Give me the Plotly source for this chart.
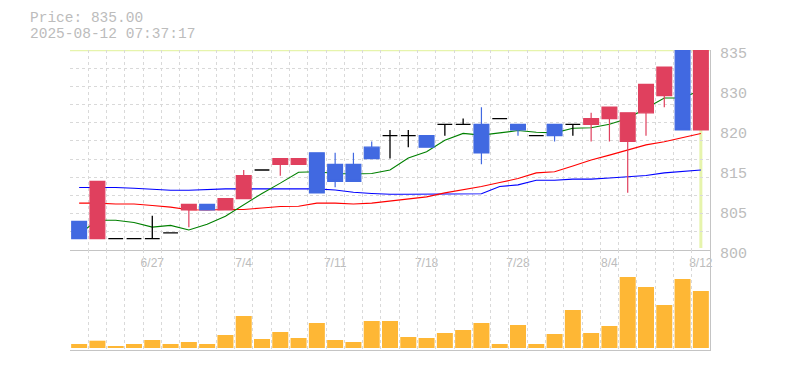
import plotly.graph_objects as go

# ---- data ----
dates = ["6/23", "6/24", "6/25", "6/26", "6/27", "6/30", "7/1", "7/2", "7/3", "7/4",
         "7/7", "7/8", "7/9", "7/10", "7/11", "7/14", "7/15", "7/16", "7/17", "7/18",
         "7/22", "7/23", "7/24", "7/25", "7/28", "7/29", "7/30", "7/31", "8/1", "8/4",
         "8/5", "8/6", "8/7", "8/8", "8/12"]
opens = [805, 802, 802, 802, 802, 803, 807, 808, 807, 809,
         814, 815, 815, 817, 815, 815, 818, 820, 820, 820,
         822, 822, 822, 823, 822, 820, 822, 822, 822, 823,
         819, 824, 827, 835, 821]
highs = [805, 812, 802, 802, 806, 803, 808, 808, 809, 814,
         814, 816, 816, 817, 817, 817, 819, 821, 821, 820,
         822, 823, 825, 823, 822, 820, 822, 822, 824, 825,
         824, 829, 832, 835, 835]
lows = [802, 802, 802, 802, 802, 803, 804, 807, 807, 809,
        814, 813, 815, 810, 811, 812, 816, 816, 818, 818,
        820, 822, 815, 823, 820, 820, 819, 820, 819, 819,
        810, 820, 825, 821, 821]
closes = [802, 812, 802, 802, 802, 803, 808, 807, 809, 813,
          814, 816, 816, 810, 812, 812, 816, 820, 820, 818,
          822, 822, 817, 823, 821, 820, 820, 822, 823, 825,
          824, 829, 832, 821, 835]
ma_short = [802.8, 805.2, 805.2, 804.8, 804.0, 804.3, 803.5, 804.5, 805.9, 807.9,
            809.9, 811.7, 813.6, 813.7, 813.4, 813.3, 813.4, 814.0, 816.1, 817.2,
            819.2, 820.4, 820.1, 820.5, 820.9, 820.6, 820.5, 821.3, 821.4, 822.0,
            823.0, 824.8, 826.6, 826.6, 828.0]
ma_mid = [808.2, 808.2, 808.05, 808.05, 807.8, 807.5, 807.05, 807.0, 807.1, 807.1,
          807.35, 807.6, 807.65, 808.2, 808.2, 808.05, 808.2, 808.6, 808.9, 809.3,
          810.0, 810.5, 811.1, 811.8, 812.5, 813.5, 813.7, 814.7, 815.75, 816.6,
          817.5, 818.4, 818.95, 819.7, 820.4]
ma_long = [810.95, 810.95, 810.95, 810.8, 810.6, 810.45, 810.45, 810.6, 810.7, 810.7,
           810.7, 810.7, 810.7, 810.7, 810.5, 810.1, 809.9, 809.75, 809.75, 809.75,
           809.75, 809.75, 809.85, 811.1, 811.4, 812.2, 812.2, 812.4, 812.4, 812.6,
           812.8, 813.05, 813.5, 813.7, 814.0]
volume = [4, 7.3, 2, 4, 8, 4, 6, 4, 13, 32,
          9, 16, 10, 25, 8, 6, 27, 27, 11, 10,
          15, 18, 25, 4, 23, 4, 14, 38, 15, 22,
          71, 61, 43, 69, 57]
tick_dates = ["6/27", "7/4", "7/11", "7/18", "7/28", "8/4", "8/12"]
price_tick_vals = [800, 807, 814, 821, 828, 835]
price_tick_text = ["800", "805", "815", "820", "830", "835"]
price_min, price_max = 800, 835
price_label = "Price: 835.00"
timestamp = "2025-08-12 07:37:17"

# ---- styles ----
RED = "#e0405e"
BLUE = "#4169e1"
ORANGE = "#feb735"
GRID = "#d9d9d9"
AXIS = "#c4c4c4"
TEXT = "#bcbcbc"
CROSS = "#e6f4ac"
MONO = "Liberation Mono, DejaVu Sans Mono, monospace"

idx = list(range(len(dates)))
xrange_ = [-0.5, len(dates) - 0.5]


def subset(cond):
    sel = [i for i in idx if cond(opens[i], closes[i])]
    return dict(x=sel,
                open=[opens[i] for i in sel], high=[highs[i] for i in sel],
                low=[lows[i] for i in sel], close=[closes[i] for i in sel])


fig = go.Figure()

# moving averages on the base price subplot (drawn beneath the candles)
for series, col in [(ma_long, "#0000ff"), (ma_mid, "#ff0000"), (ma_short, "#008000")]:
    fig.add_trace(go.Scatter(x=idx, y=series, mode="lines", xaxis="x", yaxis="y",
                             line=dict(color=col, width=1.1), hoverinfo="skip",
                             showlegend=False))

# candles on an overlaying subplot so they sit above the average lines
for cond, col, lw in [(lambda o, c: c > o, RED, 1.2),
                      (lambda o, c: c < o, BLUE, 1.2),
                      (lambda o, c: c == o, "#000000", 1.3)]:
    d = subset(cond)
    fig.add_trace(go.Candlestick(
        **d, xaxis="x3", yaxis="y3", whiskerwidth=0,
        increasing=dict(line=dict(color=col, width=lw), fillcolor=col),
        decreasing=dict(line=dict(color=col, width=lw), fillcolor=col),
        hoverinfo="skip", showlegend=False))

fig.add_trace(go.Bar(x=idx, y=volume, xaxis="x2", yaxis="y2",
                     marker=dict(color=ORANGE, line=dict(width=0)),
                     hoverinfo="skip", showlegend=False))

# crosshair on the last candle
last = len(dates) - 1
fig.add_shape(type="line", xref="x domain", yref="y", x0=0, x1=1,
              y0=closes[last], y1=closes[last], line=dict(color=CROSS, width=2.5),
              layer="below")
fig.add_shape(type="line", xref="x", yref="y domain", x0=last, x1=last,
              y0=0.01, y1=1, line=dict(color=CROSS, width=3), layer="below")

minor_x = dict(showgrid=True, tick0=-0.5, dtick=1, gridcolor=GRID,
               griddash="3px,3px", gridwidth=1, ticks="")

# the page body adds an 8px margin, so the figure is sized/offset to compensate
fig.update_layout(
    width=777, height=362,
    margin=dict(l=62, r=75, t=42, b=20, autoexpand=False),
    paper_bgcolor="white", plot_bgcolor="white",
    boxgap=0.19, boxgroupgap=0, bargap=0.125,
    showlegend=False,
    xaxis=dict(domain=[0, 1], anchor="y", range=xrange_,
               tickmode="array", tickvals=[dates.index(t) for t in tick_dates],
               ticktext=tick_dates, showgrid=False, minor=minor_x,
               showline=True, linecolor=AXIS, linewidth=1, ticks="",
               ticklabelstandoff=2,
               tickfont=dict(family="Liberation Sans, Arial, sans-serif", size=12, color=TEXT),
               rangeslider=dict(visible=False), zeroline=False, fixedrange=True,
               automargin=False),
    yaxis=dict(domain=[1 / 3, 1], anchor="x", side="right",
               range=[price_min, price_max],
               tickmode="array", tickvals=price_tick_vals, ticktext=price_tick_text,
               showgrid=False,
               minor=dict(showgrid=True, tick0=price_min, dtick=(price_max - price_min) / 11,
                          gridcolor=GRID, griddash="3px,3px", gridwidth=1, ticks=""),
               showline=True, linecolor=AXIS, linewidth=1, ticks="",
               ticklabelstandoff=6, ticklabelshift=3,
               tickfont=dict(family=MONO, size=15, color=TEXT),
               zeroline=False, fixedrange=True, automargin=False),
    xaxis3=dict(overlaying="x", anchor="y3", range=xrange_, visible=False,
                showgrid=False, zeroline=False, fixedrange=True,
                rangeslider=dict(visible=False), automargin=False),
    yaxis3=dict(overlaying="y", anchor="x3", side="right", range=[price_min, price_max],
                visible=False, showgrid=False, zeroline=False, fixedrange=True,
                automargin=False),
    xaxis2=dict(domain=[0, 1], anchor="y2", range=xrange_,
                showticklabels=False, showgrid=False, minor=minor_x,
                showline=True, linecolor=AXIS, linewidth=1, ticks="",
                zeroline=False, fixedrange=True, automargin=False),
    yaxis2=dict(domain=[0, 1 / 3], anchor="x2", side="right", range=[-2, 98],
                showticklabels=False, showgrid=False, showline=True,
                linecolor=AXIS, linewidth=1, ticks="", zeroline=False, fixedrange=True,
                automargin=False),
    annotations=[
        dict(text=price_label, xref="paper", yref="paper", x=-42 / 640, y=1 + 32 / 300,
             xanchor="left", yanchor="middle", showarrow=False,
             font=dict(family=MONO, size=14.5, color=TEXT)),
        dict(text=timestamp, xref="paper", yref="paper", x=-42 / 640, y=1 + 16 / 300,
             xanchor="left", yanchor="middle", showarrow=False,
             font=dict(family=MONO, size=14.5, color=TEXT)),
    ],
)

fig.write_html("out.html")
